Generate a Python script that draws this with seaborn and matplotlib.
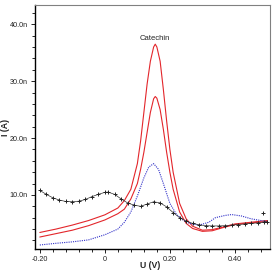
import numpy as np
import pandas as pd
import matplotlib
matplotlib.use("Agg")
import matplotlib.pyplot as plt
import seaborn as sns
from matplotlib.ticker import MultipleLocator, FuncFormatter

# potential (V) and current (nA)
u_red = [-0.20, -0.15, -0.10, -0.05, 0.0, 0.04, 0.06, 0.08, 0.10, 0.11, 0.12, 0.13, 0.14,
         0.15, 0.155, 0.16, 0.17, 0.18, 0.19, 0.20, 0.21, 0.23, 0.25, 0.27, 0.30, 0.33,
         0.36, 0.40, 0.45, 0.50]
i_red_high = [3.4, 4.0, 4.7, 5.5, 6.5, 7.7, 9.0, 11.0, 15.5, 19.5, 24.5, 29.5, 33.5,
              36.0, 36.5, 36.0, 33.5, 28.5, 23.0, 18.0, 14.0, 8.5, 5.8, 4.5, 3.8, 3.9,
              4.3, 4.9, 5.2, 5.5]
i_red_low = [2.6, 3.2, 3.8, 4.6, 5.6, 6.7, 7.5, 9.3, 12.0, 14.5, 17.5, 21.0, 24.5,
             26.9, 27.3, 27.0, 25.0, 21.5, 17.5, 14.0, 11.0, 7.0, 5.0, 4.1, 3.6, 3.7,
             4.2, 4.8, 5.1, 5.3]

u_blue = [-0.20, -0.15, -0.10, -0.05, 0.0, 0.04, 0.06, 0.08, 0.10, 0.12, 0.135, 0.15,
          0.165, 0.18, 0.20, 0.22, 0.24, 0.26, 0.29, 0.32, 0.34, 0.37, 0.39, 0.42, 0.45, 0.50]
i_blue = [1.2, 1.5, 1.75, 2.1, 3.0, 4.0, 5.2, 7.0, 9.8, 13.0, 14.9, 15.5,
          14.5, 12.0, 8.5, 6.6, 5.6, 5.0, 4.7, 5.2, 6.0, 6.4, 6.55, 6.3, 5.8, 5.3]

u_blank = [-0.20, -0.18, -0.16, -0.14, -0.12, -0.10, -0.08, -0.06, -0.04, -0.02, 0.0,
           0.01, 0.03, 0.05, 0.07, 0.09, 0.11, 0.13, 0.15, 0.17, 0.19, 0.21, 0.23, 0.25,
           0.27, 0.29, 0.31, 0.33, 0.35, 0.37, 0.39, 0.41, 0.43, 0.45, 0.47, 0.49, 0.50]
i_blank = [10.8, 10.1, 9.5, 9.1, 8.85, 8.8, 8.9, 9.2, 9.7, 10.1, 10.45,
           10.5, 10.1, 9.3, 8.6, 8.2, 8.0, 8.4, 8.8, 8.6, 7.9, 6.9, 6.0, 5.4,
           5.0, 4.75, 4.6, 4.55, 4.55, 4.6, 4.7, 4.8, 4.9, 5.0, 5.1, 5.25, 5.3]
u_stray = [0.487]
i_stray = [6.9]

sns.set_style("ticks")
plt.rcParams['font.family'] = ['Liberation Sans', 'DejaVu Sans']

fig = plt.figure(figsize=(2.75, 2.73), dpi=100)
ax = fig.add_axes([0.127, 0.088, 0.855, 0.894])

red = "#e3262b"
sns.lineplot(x=u_red, y=i_red_high, color=red, lw=0.8, sort=False, estimator=None, ax=ax)
sns.lineplot(x=u_red, y=i_red_low, color=red, lw=0.8, sort=False, estimator=None, ax=ax)
sns.lineplot(x=u_blue, y=i_blue, color="#3030c8", lw=0.8, ls=(0, (1, 1)),
             sort=False, estimator=None, ax=ax)
sns.lineplot(x=u_blank, y=i_blank, color="#333333", lw=0.5, marker="+", markersize=3.5,
             markeredgewidth=0.7, markeredgecolor="#222222", sort=False, estimator=None, ax=ax)
ax.plot(u_stray, i_stray, "+", color="#222222", ms=3.5, mew=0.7)

ax.text(0.155, 36.9, "Catechin", ha="center", va="bottom", fontsize=5.5, color="#222222")

ax.set_xlim(-0.215, 0.508)
ax.set_ylim(0.5, 43.4)
ax.xaxis.set_major_locator(MultipleLocator(0.2))
ax.xaxis.set_minor_locator(MultipleLocator(0.04))
ax.yaxis.set_major_locator(MultipleLocator(10))
ax.yaxis.set_minor_locator(MultipleLocator(2))
ax.xaxis.set_major_formatter(FuncFormatter(lambda v, p: "0" if abs(v) < 1e-9 else f"{v:.2f}"))
ax.yaxis.set_major_formatter(FuncFormatter(lambda v, p: f"{v:.1f}n"))
ax.tick_params(which="major", length=3, width=0.7, labelsize=5.2, colors="#222222", pad=2)
ax.tick_params(which="minor", length=2, width=0.7)

for s in ["left", "bottom"]:
    ax.spines[s].set_color("black")
    ax.spines[s].set_linewidth(1.0)
for s in ["top", "right"]:
    ax.spines[s].set_color("#808080")
    ax.spines[s].set_linewidth(0.8)

ax.set_xlabel("U (V)", fontsize=6.3, fontweight="bold")
ax.set_ylabel("I (A)", fontsize=6.3, fontweight="bold")
ax.xaxis.set_label_coords(0.49, -0.048)
ax.yaxis.set_label_coords(-0.105, 0.5)

fig.savefig("out.png", dpi=100)
